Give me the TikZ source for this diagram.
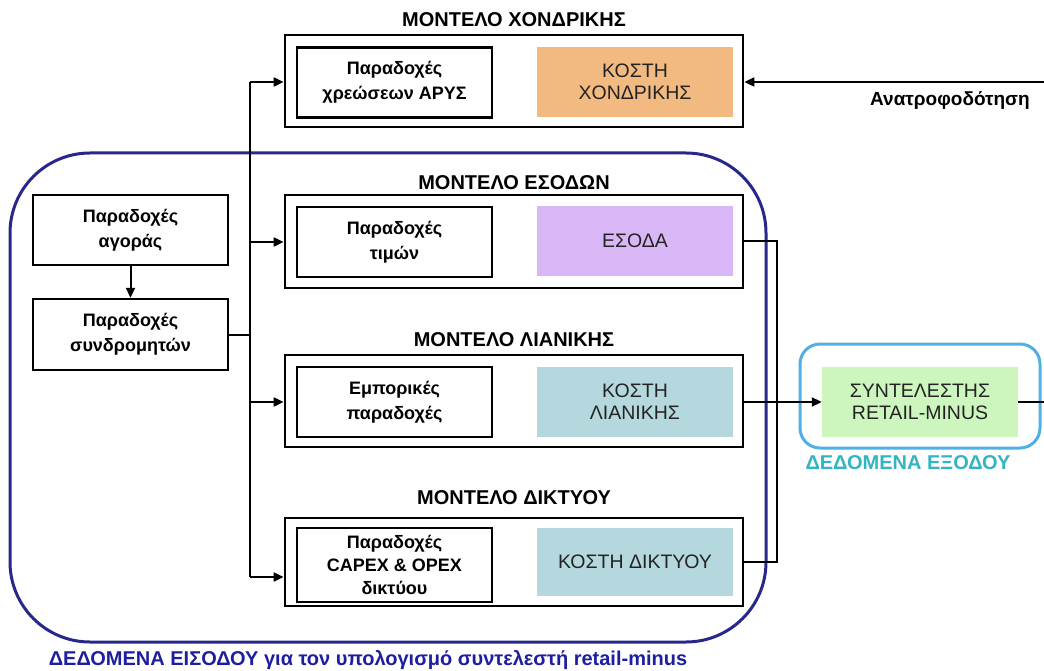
\documentclass[tikz,border=0pt]{standalone}
\usepackage{fontspec}
\setmainfont{Liberation Sans}
\usetikzlibrary{arrows.meta}
\definecolor{corange}{RGB}{242,186,128}
\definecolor{cpurple}{RGB}{217,182,246}
\definecolor{cteal}{RGB}{180,216,221}
\definecolor{cgreen}{RGB}{204,246,190}
\definecolor{cnavy}{RGB}{40,40,140}
\definecolor{cblue}{RGB}{80,176,230}
\definecolor{ctealtext}{RGB}{50,180,195}
\definecolor{cbottom}{RGB}{30,30,160}
\definecolor{ctext}{RGB}{35,35,35}
\tikzset{
  model/.style={draw=black, line width=2.8pt, minimum width=458pt, inner sep=0pt},
  assume/.style={draw=black, line width=2.4pt, fill=white, minimum width=195pt, minimum height=70pt, align=center, font=\fontsize{18}{25}\selectfont\bfseries, inner sep=0pt},
  cost/.style={minimum width=196pt, minimum height=70pt, align=center, text=ctext, font=\fontsize{19.5}{22}\selectfont, inner sep=0pt},
  mtitle/.style={font=\fontsize{20}{22}\selectfont\bfseries},
  arr/.style={line width=2pt, -{Triangle[length=10pt,width=9pt]}},
  ln/.style={line width=2pt}
}
\begin{document}
\begin{tikzpicture}[x=1pt,y=-1pt]
\useasboundingbox (0,0) rectangle (1044,671);
% big input region
\draw[cnavy, line width=3pt, rounded corners=80pt] (10,153) rectangle (766,642);
\node[font=\fontsize{20}{22}\selectfont\bfseries, text=cbottom] (inlabel) at (368,660) {ΔΕΔΟΜΕΝΑ ΕΙΣΟΔΟΥ για τον υπολογισμό συντελεστή retail-minus};
% output region
\draw[cblue, line width=3pt, rounded corners=20pt] (800,344) rectangle (1040,448);
\node[font=\fontsize{20}{22}\selectfont\bfseries, text=ctealtext] (outlabel) at (908,463) {ΔΕΔΟΜΕΝΑ ΕΞΟΔΟΥ};
% models
\node[mtitle] (t1) at (514,20) {ΜΟΝΤΕΛΟ ΧΟΝΔΡΙΚΗΣ};
\node[model, minimum height=92pt] (m1) at (514,81) {};
\node[assume] (a1) at (394.5,82.5) {Παραδοχές\\χρεώσεων ΑΡΥΣ};
\node[cost, fill=corange] (c1) at (635,82) {ΚΟΣΤΗ\\ΧΟΝΔΡΙΚΗΣ};

\node[mtitle] (t2) at (514,183) {ΜΟΝΤΕΛΟ ΕΣΟΔΩΝ};
\node[model, minimum height=93pt] (m2) at (514,241.5) {};
\node[assume] (a2) at (394.5,242) {Παραδοχές\\τιμών};
\node[cost, fill=cpurple] (c2) at (635,241) {ΕΣΟΔΑ};

\node[mtitle] (t3) at (514,340) {ΜΟΝΤΕΛΟ ΛΙΑΝΙΚΗΣ};
\node[model, minimum height=92pt] (m3) at (514,401) {};
\node[assume] (a3) at (394.5,402) {Εμπορικές\\παραδοχές};
\node[cost, fill=cteal] (c3) at (635,402) {ΚΟΣΤΗ\\ΛΙΑΝΙΚΗΣ};

\node[mtitle] (t4) at (514,498) {ΜΟΝΤΕΛΟ ΔΙΚΤΥΟΥ};
\node[model, minimum height=88pt] (m4) at (514,562) {};
\node[assume, minimum height=74pt, font=\fontsize{18}{23}\selectfont\bfseries] (a4) at (394.5,565) {Παραδοχές\\CAPEX \& OPEX\\δικτύου};
\node[cost, fill=cteal, minimum height=68pt] (c4) at (635,562) {ΚΟΣΤΗ ΔΙΚΤΥΟΥ};

% left input boxes
\node[assume] (l1) at (130.5,230) {Παραδοχές\\αγοράς};
\node[assume, minimum height=71pt] (l2) at (130.5,334.5) {Παραδοχές\\συνδρομητών};
\draw[arr] (l1) -- (l2);

% bus
\coordinate (btop) at (250,82);
\coordinate (bmid) at (250,334.5);
\coordinate (bb) at (250,242);
\coordinate (bc) at (250,402);
\coordinate (bbot) at (250,577);
\draw[ln] (l2.east) -- (bmid);
\draw[ln] (btop) -- (bbot);
\draw[arr] (btop) -- (btop -| m1.west);
\draw[arr] (bb) -- (bb -| m2.west);
\draw[arr] (bc) -- (bc -| m3.west);
\draw[arr] (bbot) -- (bbot -| m4.west);

% feedback
\coordinate (fb) at (1044,82);
\draw[arr] (fb) -- (fb -| m1.east);
\node[font=\fontsize{19}{21}\selectfont\bfseries] (fblabel) at (950,100) {Ανατροφοδότηση};

% output
\node[cost, fill=cgreen] (res) at (920,402) {ΣΥΝΤΕΛΕΣΤΗΣ\\RETAIL-MINUS};
\coordinate (o2) at (777,241);
\coordinate (o4) at (777,562);
\coordinate (oend) at (1044,402);
\draw[ln] (m2.east |- o2) -- (o2) -- (o4) -- (m4.east |- o4);
\draw[arr] (m3.east |- res) -- (res.west);
\draw[ln] (res.east) -- (oend);
\end{tikzpicture}
\end{document}
